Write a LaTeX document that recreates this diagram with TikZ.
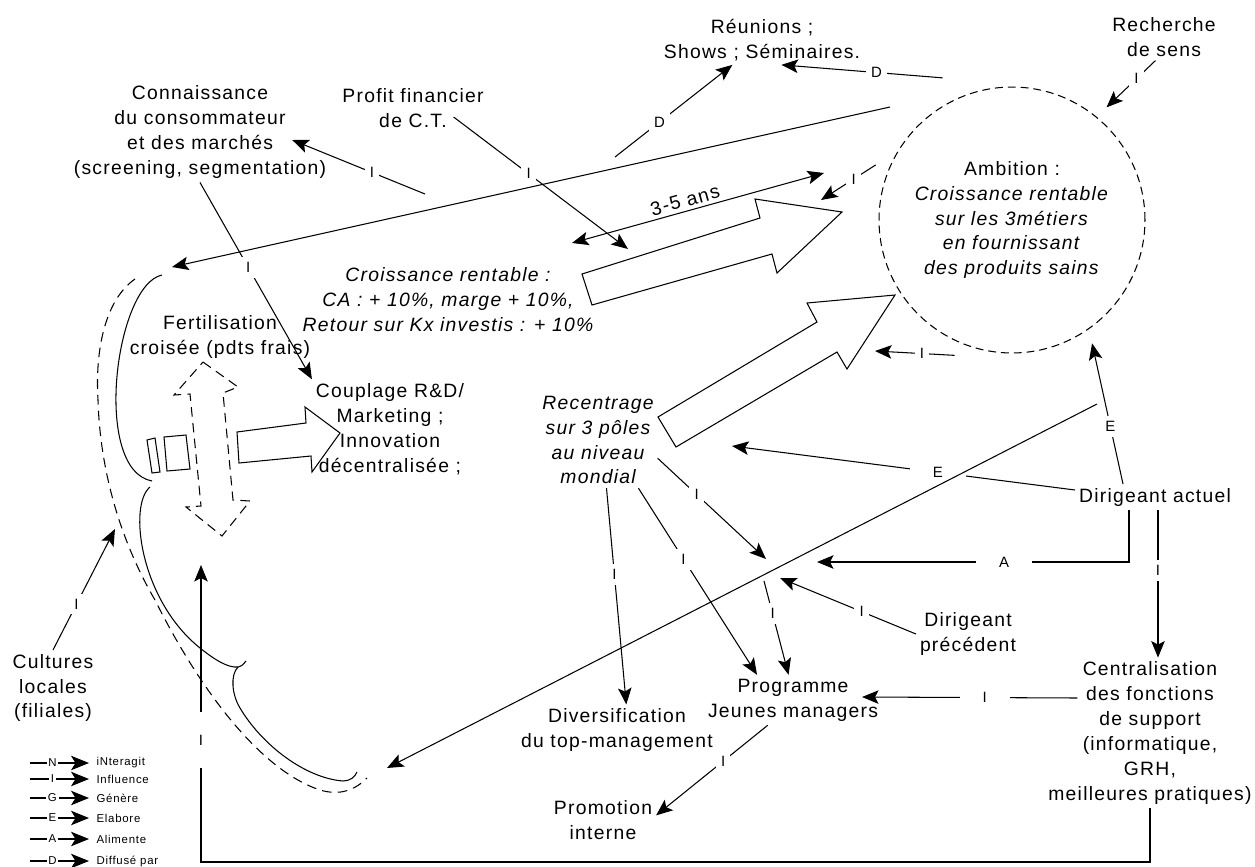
\documentclass[tikz,border=0pt]{standalone}
\usepackage{fontspec}
\setmainfont{Liberation Sans}[LetterSpace=6.5]
\usepackage{tikz}
\usetikzlibrary{positioning, calc, arrows.meta}

\begin{document}
\begin{tikzpicture}[x=0.02cm, y=-0.02cm, line width=0.6pt,
  txt/.style={align=center, inner sep=2pt, font=\fontsize{11}{14.2}\selectfont},
  itxt/.style={txt, font=\fontsize{11}{14.2}\selectfont\itshape},
  lbl/.style={fill=white, inner sep=3pt, font=\fontsize{8.5}{9}\selectfont},
  wlbl/.style={lbl, inner xsep=13pt},
  lnk/.style={arrows={-Stealth[length=3.3mm, width=2.7mm, inset=0.7mm]}},
  dbl/.style={arrows={Stealth[length=3.3mm, width=2.7mm, inset=0.7mm]-Stealth[length=3.3mm, width=2.7mm, inset=0.7mm]}},
  lgl/.style={arrows={-Stealth[length=3.6mm, width=2.9mm, inset=0.9mm]}},
  dsh/.style={dash pattern=on 4.5pt off 2.8pt},
  ldsh/.style={dash pattern=on 5.5pt off 3.5pt}]
  \useasboundingbox (0,0) rectangle (1255,866);

  \node (conn) [txt] at (200,132) {Connaissance\\du consommateur\\et des marchés\\(screening, segmentation)};
  \node (profit) [txt] at (413,108) {Profit financier\\de C.T.};
  \node (reun) [txt] at (762,40) {Réunions ;\\Shows ; Séminaires.};
  \node (rech) [txt] at (1164,37) {Recherche\\de sens};
  \node (amb) [txt, circle, draw, dsh, minimum size=5.32cm, outer sep=8pt] at (1012,220) {
    Ambition :\\ \textit{Croissance rentable}\\ \textit{sur les 3métiers}\\
    \textit{en fournissant}\\ \textit{des produits sains}
  };
  \node (croiss) [itxt] at (448,300) {Croissance rentable :\\CA : + 10\%, marge + 10\%,\\Retour sur Kx investis : + 10\%};
  \node (fert) [txt] at (220,337) {Fertilisation\\croisée (pdts frais)};
  \node (coup) [txt] at (390,429) {Couplage R\&D/\\Marketing ;\\Innovation\\décentralisée ;};
  \node (recent) [itxt] at (598,440) {Recentrage\\sur 3 pôles\\au niveau\\mondial};
  \node (diract) [txt] at (1155,497) {Dirigeant actuel};
  \node (dirprec) [txt] at (968,634) {Dirigeant\\précédent};
  \node (cent) [txt] at (1150,733) {Centralisation\\des fonctions\\de support\\(informatique,\\GRH,\\meilleures pratiques)};
  \node (prog) [txt] at (793,700) {Programme\\Jeunes managers};
  \node (divers) [txt] at (617,730) {Diversification\\du top-management};
  \node (promo) [txt] at (603,820) {Promotion\\interne};
  \node (cult) [txt] at (53,688) {Cultures\\locales\\(filiales)};

  \coordinate (ambLine) at (890,107);
  \coordinate (brkTop) at (172,267);
  \coordinate (dirLine) at (1097,404);
  \coordinate (brkBot) at (387,768);
  \coordinate (dFrom) at (615,157);
  \coordinate (iFrom) at (425,194);
  \coordinate (ar1Top) at (628,249);
  \coordinate (ar1Head) at (821,200);
  \coordinate (ar2Head) at (875,351);
  \coordinate (ar2Tail) at (732,446);
  \coordinate (yrs1) at (572,243);
  \coordinate (yrs2) at (824,173);
  \coordinate (hubA) at (817,562);
  \coordinate (hubR) at (766,559);
  \coordinate (hubP) at (780,578);
  \coordinate (hubOut) at (764,581);
  \coordinate (loopCorner) at (201,862);
  \coordinate (loopTop) at (201,565);
  \coordinate (brkMid) at (115,529);

  \draw (582,274) -- (760,218) -- (755,199) -- (842,212) -- (777,273) -- (772,254) -- (592,305) -- cycle;
  \draw (658,417) -- (817,322) -- (807,303) -- (895,295) -- (847,369) -- (837,352) -- (676,447) -- cycle;
  \draw (237,432) -- (306,423) -- (305,407) -- (340,433) -- (312,472) -- (311,456) -- (239,463) -- cycle;
  \draw [ldsh] (203,362) -- (238,387) -- (223,393) -- (233,500) -- (250,501) -- (222,536) -- (186,507) -- (201,506) -- (190,394) -- (174,395) -- cycle;
  \draw (147,440) -- (155,438) -- (160,472) -- (152,473) -- cycle;
  \draw (164,437) -- (186,435) -- (190,469) -- (167,471) -- cycle;

  \draw (162,275) .. controls (115,285) and (92,470) .. (152,481);
  \draw (150,487) .. controls (128,505) and (140,600) .. (200,648) .. controls (215,660) and (228,668) .. (238,667) .. controls (242,666) and (244,664) .. (246,661);
  \draw (238,667) .. controls (230,675) and (232,695) .. (240,708) .. controls (262,745) and (305,778) .. (343,781) .. controls (350,781) and (355,777) .. (357,772);
  \draw [ldsh] (135,279) .. controls (105,300) and (95,350) .. (98,400) .. controls (100,470) and (120,540) .. (155,600) .. controls (200,690) and (260,770) .. (320,790) .. controls (340,796) and (355,790) .. (367,778);

  \draw [lnk] (conn.south) -- node[lbl, pos=.43] {I} (coup.north west);
  \draw [lnk] ($(profit.east)+(-34,9)$) -- node[lbl, pos=.43] {I} (ar1Top);
  \draw [lnk] (dFrom) -- node[lbl, pos=.38] {D} (reun.-140);
  \draw [lnk] (iFrom) -- node[lbl, pos=.4] {I} ($(conn.east)+(-38,8)$);
  \draw [lnk] ($(amb.116)+(-5,-10)$) -- node[lbl, pos=.41] {D} (reun.-52);
  \draw [lnk] (rech.-110) -- node[lbl, pos=.39] {I} (amb.50);
  \draw [lnk] (amb.158) -- node[lbl, pos=.4] {I} (ar1Head);
  \draw [dbl] (yrs1) -- node[txt, sloped, above, pos=.46] {3-5 ans} (yrs2);
  \draw [lnk] (amb.-113) -- node[lbl, pos=.41] {I} (ar2Head);
  \draw [lnk] ($(diract.north)+(-32,0)$) -- node[lbl, pos=.41] {E} (amb.-57);
  \draw [lnk] (diract.175) -- node[wlbl, pos=.4] {E} (ar2Tail);
  \draw [lnk] ($(diract.south)+(-26,0)$) |- node[wlbl, pos=.7] {A} (hubA);
  \draw [lnk] ($(diract.south)+(3,0)$) -- node[lbl, pos=.41] {I} ($(cent.north)+(8,0)$);
  \draw [lnk] (dirprec.west) -- node[lbl, pos=.4] {I} (hubP);
  \draw [lnk] (recent.-17) -- node[lbl, pos=.36] {I} (hubR);
  \draw [lnk] (recent.-80) -- node[lbl, pos=.4] {I} (divers.70);
  \draw [lnk] (recent.-50) -- node[lbl, pos=.38] {I} (prog.145);
  \draw [lnk] (hubOut) -- node[lbl, pos=.35] {I} (prog.100);
  \draw [lnk] ($(cent.west)+(33,-35)$) -- node[wlbl, pos=.43] {I} ($(prog.east)+(-20,-3)$);
  \draw [lnk] (prog.-135) -- node[lbl, pos=.4] {I} (promo.5);
  \draw [lnk] (cent.south) |- (loopCorner) -- node[lbl, pos=.41, inner ysep=13pt] {I} (loopTop);
  \draw [lnk] (cult.north) -- node[lbl, pos=.38] {I} (brkMid);

  \draw [lnk] (ambLine) -- (brkTop);
  \draw [lnk] (dirLine) -- (brkBot);

  \foreach \ltr/\lgtxt/\yy in {N/iNteragit/763, I/Influence/779, G/Génère/798, E/Elabore/818, A/Alimente/839, D/Diffusé par/861} {
    \coordinate (lg\ltr) at (30,\yy);
    \node (lgt\ltr) [anchor=west, inner sep=4pt, font=\fontsize{6.5}{7}\selectfont] at (89,\yy) {\lgtxt};
    \draw [lgl] (lg\ltr) -- node[fill=white, inner sep=1pt, pos=.38, font=\fontsize{6.5}{7}\selectfont] {\ltr} (lgt\ltr.west);
  }
\end{tikzpicture}
\end{document}
